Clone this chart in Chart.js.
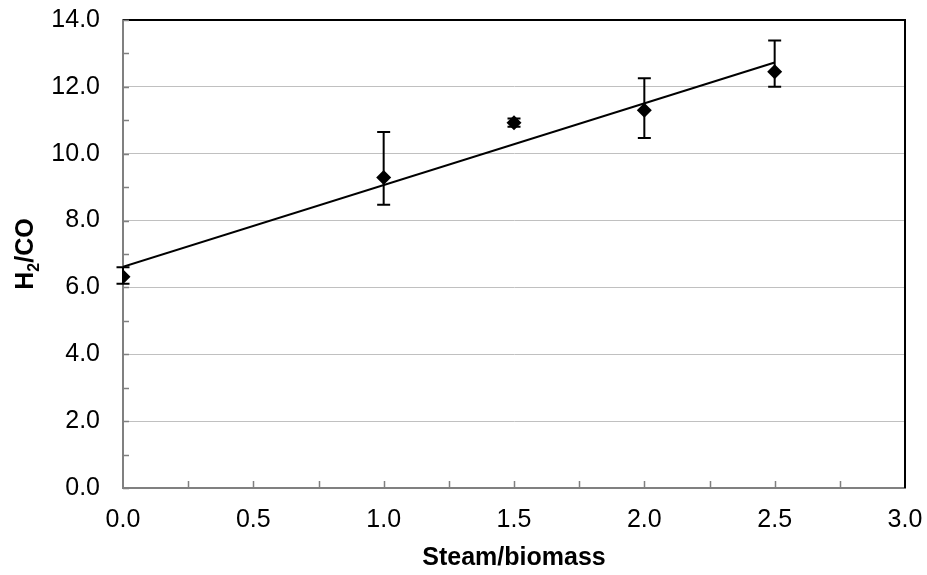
<!DOCTYPE html>
<html>
<head>
<meta charset="utf-8">
<title>H2/CO vs Steam/biomass</title>
<script src="https://cdn.jsdelivr.net/npm/chart.js@4"></script>
<style>
  body { margin: 0; background: #fff; }
  #wrap { width: 927px; height: 575px; }
</style>
</head>
<body>
<div id="wrap"><canvas id="myChart" width="927" height="575"></canvas></div>
<script>
// measured points (steam/biomass ratio vs H2/CO)
const steamBiomass = [0.0, 1.0, 1.5, 2.0, 2.5];
const h2co = [6.32, 9.29, 10.93, 11.30, 12.45];
// error bar ends (upper / lower)
const h2coHigh = [6.60, 10.65, 11.05, 12.26, 13.39];
const h2coLow = [6.11, 8.47, 10.81, 10.47, 12.00];

// linear trend line end points
const trendX = [0.0, 2.5];
const trendY = [6.62, 12.73];

const xTicks = [0, 0.5, 1.0, 1.5, 2.0, 2.5, 3.0];
const yTicks = [0, 2, 4, 6, 8, 10, 12, 14];

const fontFamily = "'Liberation Sans', Arial, sans-serif";

const errorBars = {
    id: 'errorBars',
    afterDatasetsDraw(chart) {
        const ctx = chart.ctx;
        const x = chart.scales.x;
        const y = chart.scales.y;
        ctx.save();
        ctx.strokeStyle = '#000';
        ctx.lineWidth = 2;
        steamBiomass.forEach((v, i) => {
            const px = x.getPixelForValue(v);
            const top = y.getPixelForValue(h2coHigh[i]);
            const bot = y.getPixelForValue(h2coLow[i]);
            ctx.beginPath();
            ctx.moveTo(px, top);
            ctx.lineTo(px, bot);
            ctx.moveTo(px - 6.5, top);
            ctx.lineTo(px + 6.5, top);
            ctx.moveTo(px - 6.5, bot);
            ctx.lineTo(px + 6.5, bot);
            ctx.stroke();
        });
        ctx.restore();
    }
};

const frame = {
    id: 'frame',
    beforeDatasetsDraw(chart) {
        const ctx = chart.ctx;
        const a = chart.chartArea;
        const x = chart.scales.x;
        const y = chart.scales.y;
        ctx.save();
        // top and right border
        ctx.strokeStyle = '#000';
        ctx.lineWidth = 2;
        ctx.beginPath();
        ctx.moveTo(a.left, a.top);
        ctx.lineTo(a.right, a.top);
        ctx.lineTo(a.right, a.bottom);
        ctx.stroke();
        // inside tick marks
        ctx.strokeStyle = '#808080';
        ctx.lineWidth = 1.5;
        ctx.beginPath();
        for (let v = 0; v <= 14; v += 1) {
            const py = Math.round(y.getPixelForValue(v)) + 0.5;
            ctx.moveTo(a.left, py);
            ctx.lineTo(a.left + 6, py);
        }
        for (let v = 0.25; v < 3; v += 0.25) {
            const px = Math.round(x.getPixelForValue(v)) + 0.5;
            ctx.moveTo(px, a.bottom);
            ctx.lineTo(px, a.bottom - 7);
        }
        ctx.stroke();
        ctx.restore();
    },
    afterDraw(chart) {
        // y axis title with subscript
        const ctx = chart.ctx;
        const a = chart.chartArea;
        ctx.save();
        ctx.fillStyle = '#000';
        ctx.translate(24, (a.top + a.bottom) / 2);
        ctx.rotate(-Math.PI / 2);
        ctx.textBaseline = 'alphabetic';
        ctx.textAlign = 'left';
        const big = 'bold 25px ' + fontFamily;
        const small = 'bold 16px ' + fontFamily;
        ctx.font = big;
        const wH = ctx.measureText('H').width;
        const wRest = ctx.measureText('/CO').width;
        ctx.font = small;
        const w2 = ctx.measureText('2').width;
        let sx = -(wH + w2 + wRest) / 2;
        ctx.font = big;
        ctx.fillText('H', sx, 9);
        sx += wH;
        ctx.font = small;
        ctx.fillText('2', sx, 15);
        sx += w2;
        ctx.font = big;
        ctx.fillText('/CO', sx, 9);
        ctx.restore();
    }
};

const config = {
    type: 'scatter',
    data: {
        datasets: [{
            label: 'Trend',
            data: trendX.map((v, i) => ({ x: v, y: trendY[i] })),
            showLine: true,
            borderColor: '#000',
            borderWidth: 2,
            pointRadius: 0,
            order: 1
        }, {
            label: 'H2/CO',
            data: steamBiomass.map((v, i) => ({ x: v, y: h2co[i] })),
            showLine: false,
            pointStyle: 'rectRot',
            pointRadius: 7.5,
            backgroundColor: '#000',
            borderColor: '#000',
            borderWidth: 0,
            order: 2
        }]
    },
    options: {
        responsive: false,
        animation: false,
        layout: { padding: { top: 20, right: 22, left: 0, bottom: 0 } },
        plugins: {
            legend: { display: false },
            tooltip: { enabled: false }
        },
        scales: {
            x: {
                type: 'linear',
                min: 0,
                max: 3,
                afterBuildTicks: (scale) => { scale.ticks = xTicks.map(v => ({ value: v })); },
                afterFit: (scale) => {
                    scale.height = 87;
                    scale.paddingLeft = 0;
                    scale.paddingRight = 0;
                },
                grid: { display: false, drawTicks: false },
                border: { color: '#808080', width: 2 },
                ticks: {
                    color: '#000',
                    padding: 17,
                    font: { family: fontFamily, size: 25 },
                    callback: (v) => Number(v).toFixed(1)
                },
                title: {
                    display: true,
                    text: 'Steam/biomass',
                    color: '#000',
                    padding: { top: 0, bottom: 2 },
                    font: { family: fontFamily, size: 25, weight: 'bold' }
                }
            },
            y: {
                min: 0,
                max: 14,
                afterBuildTicks: (scale) => { scale.ticks = yTicks.map(v => ({ value: v })); },
                afterFit: (scale) => {
                    scale.width = 123;
                    scale.paddingTop = 0;
                    scale.paddingBottom = 0;
                },
                grid: { color: '#c0c0c0', lineWidth: 1, drawTicks: false },
                border: { color: '#808080', width: 2 },
                ticks: {
                    color: '#000',
                    padding: 23,
                    font: { family: fontFamily, size: 25 },
                    callback: (v) => Number(v).toFixed(1)
                }
            }
        }
    },
    plugins: [frame, errorBars]
};

const myChart = new Chart(document.getElementById('myChart'), config);
</script>
</body>
</html>
